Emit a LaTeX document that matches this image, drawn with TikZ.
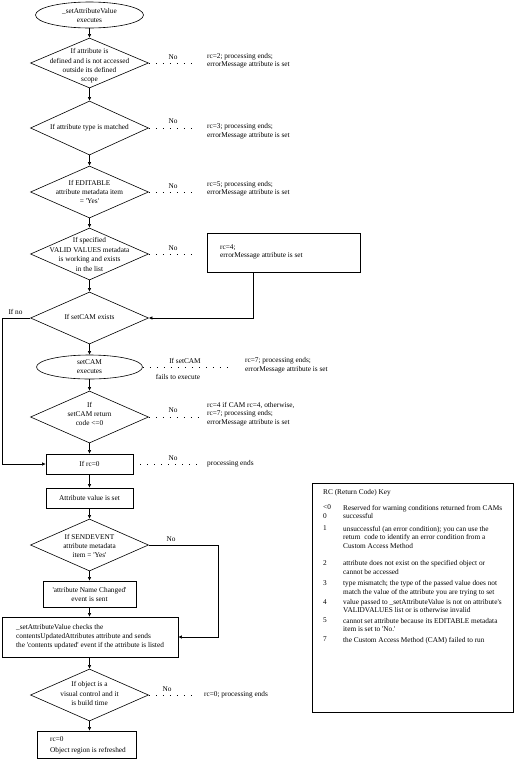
\documentclass[tikz,border=0pt]{standalone}
\usepackage{fontspec}
\setmainfont{Liberation Serif}[Ligatures=TeXOff]
\usetikzlibrary{shapes.geometric,arrows.meta}
\begin{document}
\begin{tikzpicture}[x=1pt,y=-1pt,
  every node/.style={inner sep=0pt, font=\fontsize{7.3}{8.5}\selectfont},
  dia/.style={diamond, draw, minimum width=118pt, minimum height=52pt, line width=.6pt},
  dtext/.style={align=center, font=\fontsize{7.3}{9.4}\selectfont},
  term/.style={ellipse, draw, minimum width=106pt, minimum height=24pt, align=center, line width=.6pt, font=\fontsize{7.3}{9}\selectfont},
  pbox/.style={rectangle, draw, align=center, line width=.6pt},
  note/.style={anchor=west, align=left},
  keyt/.style={anchor=north west, align=left, font=\fontsize{7.3}{8.7}\selectfont},
  flow/.style={-{Latex[length=3.6pt,width=3.6pt]}, line width=.6pt},
  dots/.style={line width=1pt, dash pattern=on 1pt off 6pt},
  wire/.style={line width=.6pt}]
\useasboundingbox (0,0) rectangle (525,761);

% main column
\node[term, minimum width=108pt, minimum height=26pt] (start) at (89.5,15) {\_setAttributeValue\\executes};
\node[dia, minimum height=50pt] (d1) at (89.5,63) {};
\node[dtext] (t1) at (89.5,66) {If attribute is\\defined and is not accessed\\outside its defined\\scope};
\node[dia, minimum height=54pt] (d2) at (89.5,128) {};
\node[dtext] (t2) at (89.5,127.5) {If attribute type is matched};
\node[dia] (d3) at (89.5,192) {};
\node[dtext] (t3) at (89.5,192) {If EDITABLE\\attribute metadata item\\= 'Yes'};
\node[dia] (d4) at (89.5,254) {};
\node[dtext] (t4) at (89.5,254.5) {If specified\\VALID VALUES metadata\\is working and exists\\in the list};
\node[dia] (d5) at (89.5,318) {};
\node[dtext] (t5) at (89.5,317) {If setCAM exists};
\node[term] (e2) at (89.5,367) {setCAM\\executes};
\node[dia] (d6) at (89.5,417) {};
\node[dtext] (t6) at (89.5,414) {If\\setCAM return\\code <=0};
\node[pbox, minimum width=87pt, minimum height=20pt] (rc0) at (89.5,464) {If rc=0};
\node[pbox, minimum width=87pt, minimum height=20pt] (set) at (89.5,498) {Attribute value is set};
\node[dia] (d7) at (89.5,545) {};
\node[dtext] (t7) at (89.5,546) {If SENDEVENT\\attribute metadata\\item = 'Yes'};
\node[pbox, minimum width=93pt, minimum height=26pt, font=\fontsize{7.3}{9}\selectfont] (nc) at (89.5,594) {'attribute Name Changed'\\event is sent};
\node[pbox, minimum width=176pt, minimum height=40pt, align=left, font=\fontsize{7.3}{9.2}\selectfont] (big) at (90,637) {\_setAttributeValue checks the\\contentsUpdatedAttributes attribute and sends\\the 'contents updated' event if the attribute is listed};
\node[dia] (d8) at (89.5,695) {};
\node[dtext] (t8) at (89.5,693.5) {If object is a\\visual control and it\\is build time};
\node[pbox, minimum width=99pt, minimum height=27pt] (last) at (86.5,744.5) {};
\node[note, font=\fontsize{7.3}{10.5}\selectfont] (lastt) at (50,745.5) {rc=0\\Object region is refreshed};

% main flow
\draw[flow] (start) -- (d1);
\draw[flow] (d1) -- (d2);
\draw[flow] (d2) -- (d3);
\draw[flow] (d3) -- (d4);
\draw[flow] (d4) -- (d5);
\draw[flow] (d5) -- (e2);
\draw[flow] (e2) -- (d6);
\draw[flow] (d6) -- (rc0);
\draw[flow] (rc0) -- (set);
\draw[flow] (set) -- (d7);
\draw[flow] (d7) -- (nc);
\draw[flow] (nc.south) -- (nc.south |- big.north);
\draw[flow] (big.south -| d8.north) -- (d8.north);
\draw[flow] (d8.south) -- (d8.south |- last.north);

% side branches
\node (no1) at (173,57) {No};
\coordinate (e1) at (194,63);
\draw[dots] (d1.east) -- (e1);
\node[note] (n1) at (207,61) {rc=2; processing ends;\\errorMessage attribute is set};

\node (no2) at (173,121) {No};
\coordinate (ee2) at (194,128);
\draw[dots] (d2.east) -- (ee2);
\node[note] (n2) at (207,131.5) {rc=3; processing ends;\\errorMessage attribute is set};

\node (no3) at (173,186) {No};
\coordinate (e3) at (194,192);
\draw[dots] (d3.east) -- (e3);
\node[note] (n3) at (207,189) {rc=5; processing ends;\\errorMessage attribute is set};

\node (no4) at (173,248) {No};
\coordinate (e4) at (197,254);
\draw[dots] (d4.east) -- (e4);
\node[pbox, minimum width=153pt, minimum height=39pt] (rc4) at (283.5,252.5) {};
\node[note] (rc4t) at (220,252) {rc=4;\\errorMessage attribute is set};
\draw[flow] ([xshift=47pt]rc4.south west) |- (d5.east);

\node (ifno) at (15.5,312) {If no};
\draw[flow] (d5.west) -- ++(-27.5,0) |- (rc0.west);

\node (ifs) at (185,360.5) {If setCAM};
\node (fails) at (178,377) {fails to execute};
\coordinate (e5) at (232,367);
\draw[dots] (e2.east) -- (e5);
\node[note] (n5) at (245,365) {rc=7; processing ends;\\errorMessage attribute is set};

\node (no6) at (173,410) {No};
\coordinate (e6) at (200,417);
\draw[dots] (d6.east) -- (e6);
\node[note] (n6) at (207,414) {rc=4 if CAM rc=4, otherwise,\\rc=7; processing ends;\\errorMessage attribute is set};

\node (no7) at (173,458) {No};
\coordinate (e7) at (200,464);
\draw[dots] (rc0.east) -- (e7);
\node[note] (n7) at (207,464) {processing ends};

\node (no8) at (171,539) {No};
\draw[flow] (d7.east) -- ++(69,0) |- (big.east);

\node (no9) at (167,689) {No};
\coordinate (e9) at (196,695);
\draw[dots] (d8.east) -- (e9);
\node[note] (n9) at (204,695) {rc=0; processing ends};

% key
\node[draw, line width=.6pt, minimum width=201pt, minimum height=229pt] (key) at (412.5,597.5) {};
\node[note] (kh) at (323,493) {RC (Return Code) Key};
\node[keyt] (k0n) at (323,504.8) {<0\\0};
\node[keyt] (k0d) at (343,504.8) {Reserved for warning conditions returned from CAMs\\successful};
\node[keyt] (k1n) at (323,525.8) {1};
\node[keyt] (k1d) at (343,525.8) {unsuccessful (an error condition); you can use the\\return\ \ code to identify an error condition from a\\Custom Access Method};
\node[keyt] (k2n) at (323,560.3) {2};
\node[keyt] (k2d) at (343,560.3) {attribute does not exist on the specified object or\\cannot be accessed};
\node[keyt] (k3n) at (323,580) {3};
\node[keyt] (k3d) at (343,580) {type mismatch; the type of the passed value does not\\match the value of the attribute you are trying to set};
\node[keyt] (k4n) at (323,599) {4};
\node[keyt] (k4d) at (343,599) {value passed to \_setAttributeValue is not on attribute's\\VALIDVALUES list or is otherwise invalid};
\node[keyt] (k5n) at (323,618) {5};
\node[keyt] (k5d) at (343,618) {cannot set attribute because its EDITABLE metadata\\item is set to 'No.'};
\node[keyt] (k7n) at (323,637) {7};
\node[keyt] (k7d) at (343,637) {the Custom Access Method (CAM) failed to run};
\end{tikzpicture}
\end{document}
